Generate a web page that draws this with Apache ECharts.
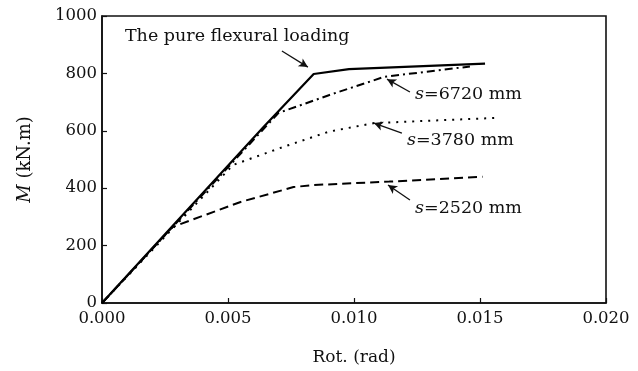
<!DOCTYPE html>
<html>
<head>
<meta charset="utf-8">
<script src="https://cdn.jsdelivr.net/npm/echarts@6/dist/echarts.min.js"></script>
<style>
html,body{margin:0;padding:0;background:#fff;}
#chart{width:638px;height:371px;}
</style>
</head>
<body>
<div id="chart"></div>
<script>
// x ticks / y ticks
var xTicks = [0, 0.005, 0.010, 0.015, 0.020];
var yTicks = [0, 200, 400, 600, 800, 1000];

// The pure flexural loading
var pureRot = [0, 0.0028, 0.0064, 0.0084, 0.0098, 0.0152];
var pureM   = [0, 268, 612, 798, 815, 834];

// s = 6720 mm
var s6720Rot = [0, 0.0070, 0.0090, 0.0112, 0.0146];
var s6720M   = [0, 662, 724, 788, 824];

// s = 3780 mm
var s3780Rot = [0, 0.0052, 0.0072, 0.0090, 0.0108, 0.0157];
var s3780M   = [0, 481, 544, 597, 627, 645];

// s = 2520 mm
var s2520Rot = [0, 0.0028, 0.0055, 0.0076, 0.0084, 0.0114, 0.0151];
var s2520M   = [0, 265, 352, 404, 411, 423, 440];

// annotation anchors (data coords): [labelRot, labelM, arrowFromRot, arrowFromM, arrowToRot, arrowToM]
var annPure  = [0.00091, 927, 0.00714, 878, 0.00817, 822];
var ann6720  = [0.01242, 725, 0.01222, 735, 0.01131, 780];
var ann3780  = [0.01210, 568, 0.01190, 592, 0.01079, 627];
var ann2520  = [0.01242, 328, 0.01222, 359, 0.01135, 411];

function zip(a, b) { return a.map(function (v, i) { return [v, b[i]]; }); }

var FONT = 'DejaVu Serif';
var txtColor = '#111';
var ANN_SIZE = 17.5;

function annotation(ann, text) {
  return {
    markPoint: {
      silent: true,
      symbol: 'circle', symbolSize: 0,
      data: [{ coord: [ann[0], ann[1]] }],
      label: {
        show: true, position: 'right', distance: 0,
        formatter: text, color: txtColor, fontFamily: FONT, fontSize: ANN_SIZE,
        rich: { i: { fontStyle: 'italic', fontFamily: FONT, fontSize: ANN_SIZE, color: txtColor } }
      }
    },
    markLine: {
      silent: true,
      symbol: ['none', 'arrow'], symbolSize: [7, 9],
      lineStyle: { color: '#111', width: 1.3, type: 'solid' },
      label: { show: false },
      data: [[{ coord: [ann[2], ann[3]] }, { coord: [ann[4], ann[5]] }]]
    }
  };
}

function lineSeries(data, type, width) {
  return {
    type: 'line', data: data, showSymbol: false, symbol: 'none',
    lineStyle: { color: '#000', width: width, type: type, cap: 'butt' },
    animation: false, z: 3
  };
}

var s1 = lineSeries(zip(pureRot, pureM), 'solid', 2.2);
var a1 = annotation(annPure, 'The pure flexural loading');
s1.markPoint = a1.markPoint; s1.markLine = a1.markLine;

var s2 = lineSeries(zip(s6720Rot, s6720M), [8, 4, 2, 4], 2);
var a2 = annotation(ann6720, '{i|s}=6720 mm');
s2.markPoint = a2.markPoint; s2.markLine = a2.markLine;

var s3 = lineSeries(zip(s3780Rot, s3780M), [2, 6], 2);
var a3 = annotation(ann3780, '{i|s}=3780 mm');
s3.markPoint = a3.markPoint; s3.markLine = a3.markLine;

var s4 = lineSeries(zip(s2520Rot, s2520M), [9, 5], 2);
var a4 = annotation(ann2520, '{i|s}=2520 mm');
s4.markPoint = a4.markPoint; s4.markLine = a4.markLine;

var chart = echarts.init(document.getElementById('chart'), null, { renderer: 'canvas' });
chart.setOption({
  animation: false,
  backgroundColor: '#fff',
  grid: { left: 102, right: 32, top: 16, bottom: 68, show: true, borderColor: '#111', borderWidth: 1.6, backgroundColor: 'transparent' },
  xAxis: {
    type: 'value', min: xTicks[0], max: xTicks[xTicks.length - 1], interval: 0.005,
    axisLine: { show: true, lineStyle: { color: '#111', width: 1.6 } },
    axisTick: { show: true, inside: true, length: 5, lineStyle: { color: '#111', width: 1.2 } },
    splitLine: { show: false },
    axisLabel: { color: txtColor, fontFamily: FONT, fontSize: 16.5, margin: 7, formatter: function (v) { return v.toFixed(3); } },
    name: 'Rot. (rad)', nameLocation: 'middle', nameGap: 46,
    nameTextStyle: { color: txtColor, fontFamily: FONT, fontSize: 17 }
  },
  yAxis: {
    type: 'value', min: yTicks[0], max: yTicks[yTicks.length - 1], interval: 200,
    axisLine: { show: true, lineStyle: { color: '#111', width: 1.6 } },
    axisTick: { show: true, inside: true, length: 5, lineStyle: { color: '#111', width: 1.2 } },
    splitLine: { show: false },
    axisLabel: { color: txtColor, fontFamily: FONT, fontSize: 16.5, margin: 5, formatter: function (v) { return String(v); } },
    name: '{i|M} (kN.m)', nameLocation: 'middle', nameGap: 68, nameRotate: 90,
    nameTextStyle: { color: txtColor, fontFamily: FONT, fontSize: 18,
      rich: { i: { fontStyle: 'italic', fontFamily: FONT, fontSize: 18, color: txtColor } } }
  },
  series: [s1, s2, s3, s4]
});
</script>
</body>
</html>
